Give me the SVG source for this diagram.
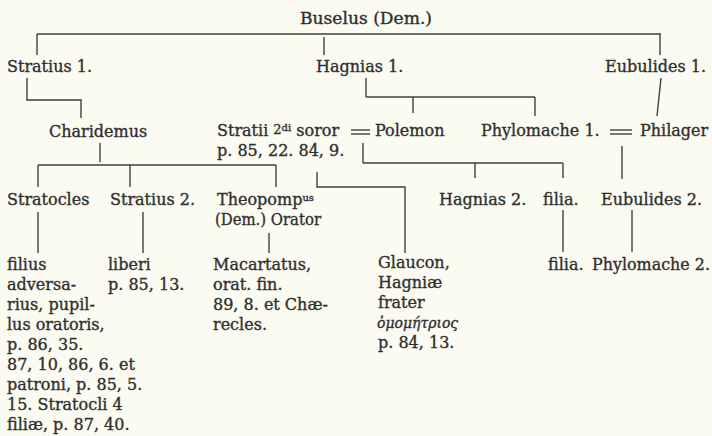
<svg xmlns="http://www.w3.org/2000/svg" width="712" height="436" viewBox="0 0 712 436">
<style>
text{font-family:"DejaVu Serif","Liberation Serif",serif;font-size:16px;fill:#2f2f2f;stroke:#2f2f2f;stroke-width:0.35}
.sm{font-size:10px}
.gk{font-family:"DejaVu Serif",serif;font-style:italic;font-size:14px}
.cd{font-family:"DejaVu Serif Condensed","DejaVu Serif",serif;font-size:17px}
#connectors line,#connectors polyline{stroke:#3f3f3f;stroke-width:1.4;fill:none}
</style>
<rect width="712" height="436" fill="#fcfbf2"/>
<g id="connectors">
<line x1="37" y1="34" x2="661" y2="34"/>
<line x1="37" y1="34" x2="37" y2="55"/>
<line x1="324" y1="37" x2="324" y2="55"/>
<line x1="660" y1="34" x2="660" y2="55"/>
<polyline points="27,78 27,100 81,100 81,118"/>
<line x1="366" y1="78" x2="366" y2="97"/>
<line x1="366" y1="97" x2="535" y2="97"/>
<line x1="413" y1="97" x2="413" y2="113"/>
<line x1="535" y1="97" x2="535" y2="116"/>
<line x1="661" y1="78" x2="657" y2="116"/>
<line x1="100" y1="143" x2="100" y2="162"/>
<line x1="38" y1="165" x2="276" y2="165"/>
<line x1="38" y1="165" x2="38" y2="187"/>
<line x1="130" y1="165" x2="130" y2="187"/>
<line x1="276" y1="165" x2="276" y2="187"/>
<line x1="351" y1="130" x2="370" y2="130"/>
<line x1="351" y1="134" x2="370" y2="134"/>
<line x1="363" y1="143" x2="363" y2="163"/>
<line x1="363" y1="163" x2="563" y2="163"/>
<line x1="475" y1="163" x2="475" y2="178"/>
<line x1="563" y1="163" x2="563" y2="178"/>
<polyline points="317,172 317,187 405,187 405,253"/>
<line x1="610" y1="130" x2="632" y2="130"/>
<line x1="610" y1="134" x2="632" y2="134"/>
<line x1="622" y1="146" x2="622" y2="179"/>
<line x1="38" y1="212" x2="38" y2="253"/>
<line x1="143" y1="212" x2="143" y2="253"/>
<line x1="269" y1="233" x2="269" y2="253"/>
<line x1="563" y1="210" x2="563" y2="252"/>
<line x1="632" y1="210" x2="632" y2="252"/>
</g>
<g id="buselus"><text class="cd" x="300" y="24" textLength="132" lengthAdjust="spacingAndGlyphs">Buselus (Dem.)</text></g>
<g id="stratius1"><text x="7" y="72">Stratius 1.</text></g>
<g id="hagnias1"><text x="316" y="72">Hagnias 1.</text></g>
<g id="eubulides1"><text x="605" y="72">Eubulides 1.</text></g>
<g id="charidemus"><text x="49" y="137">Charidemus</text></g>
<g id="soror"><text x="217" y="136">Stratii <tspan font-size="13" dy="-2">2</tspan><tspan class="sm" dy="-3">di</tspan><tspan dy="5"> soror</tspan></text><text x="217" y="156">p. 85, 22. 84, 9.</text></g>
<g id="polemon"><text x="375" y="136">Polemon</text></g>
<g id="phylomache1"><text x="481" y="136">Phylomache 1.</text></g>
<g id="philager"><text x="640" y="136">Philager</text></g>
<g id="stratocles"><text x="7" y="205">Stratocles</text></g>
<g id="stratius2"><text x="110" y="205">Stratius 2.</text></g>
<g id="theopompus"><text x="217" y="205">Theopomp<tspan class="sm" dy="-4">us</tspan></text><text x="215" y="225" textLength="106" lengthAdjust="spacingAndGlyphs">(Dem.) Orator</text></g>
<g id="hagnias2"><text x="439" y="205">Hagnias 2.</text></g>
<g id="filia1"><text x="543" y="205">filia.</text></g>
<g id="eubulides2"><text x="601" y="205">Eubulides 2.</text></g>
<g id="filius"><text x="7" y="270">filius</text><text x="7" y="290">adversa-</text><text x="7" y="310">rius, pupil-</text><text x="7" y="330">lus oratoris,</text><text x="7" y="350">p. 86, 35.</text><text x="7" y="370">87, 10, 86, 6. et</text><text x="7" y="390">patroni, p. 85, 5.</text><text x="7" y="410">15. Stratocli 4</text><text x="7" y="430">filiæ, p. 87, 40.</text></g>
<g id="liberi"><text x="108" y="270">liberi</text><text x="108" y="290">p. 85, 13.</text></g>
<g id="macartatus"><text x="213" y="270">Macartatus,</text><text x="213" y="290">orat. fin.</text><text x="213" y="310">89, 8. et Chæ-</text><text x="213" y="330">recles.</text></g>
<g id="glaucon"><text x="378" y="268">Glaucon,</text><text x="378" y="288">Hagniæ</text><text x="378" y="308">frater</text><text class="gk" x="377" y="328">ὁμομήτριος</text><text x="378" y="348">p. 84, 13.</text></g>
<g id="filia2"><text x="548" y="270">filia.</text></g>
<g id="phylomache2"><text x="592" y="270" textLength="118" lengthAdjust="spacingAndGlyphs">Phylomache 2.</text></g>
</svg>
